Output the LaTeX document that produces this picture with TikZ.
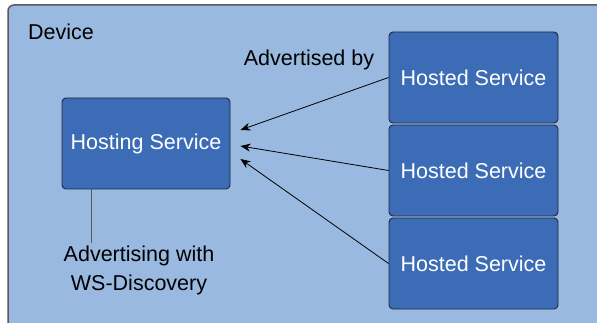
\documentclass[tikz,border=0pt]{standalone}
\usepackage{fontspec}
\setmainfont{Liberation Sans}
\usetikzlibrary{arrows.meta,calc}
\definecolor{devfill}{RGB}{153,185,224}
\definecolor{boxfill}{RGB}{61,108,183}
\definecolor{devline}{RGB}{90,90,90}
\definecolor{boxline}{RGB}{30,40,60}
\tikzset{
  svc/.style={draw=boxline, line width=0.9pt, fill=boxfill, rounded corners=4pt, text=white, font=\fontsize{21.5}{25}\selectfont, inner sep=0pt},
  lbl/.style={font=\fontsize{21.5}{29}\selectfont, text=black, inner sep=0pt},
  arr/.style={-{Stealth[length=10pt,width=8pt]}, line width=0.8pt, black}
}
\begin{document}
\begin{tikzpicture}[x=1pt,y=-1pt]
\useasboundingbox (0,0) rectangle (597,323);
\begin{scope}
\clip (0,0) rectangle (597,323);
\fill[white] (0,0) rectangle (597,323);
\draw[draw=devline, line width=1.5pt, fill=devfill, rounded corners=6pt] (8,5) rectangle (640,360);
\end{scope}
\node[lbl, anchor=base west] (dev) at (28,40) {Device};
\node[svc, minimum width=168pt, minimum height=91pt] (hs) at (146,143.5) {Hosting Service};
\node[svc, minimum width=169pt, minimum height=91pt] (h1) at (473.5,77.5) {Hosted Service};
\node[svc, minimum width=169pt, minimum height=91pt] (h2) at (473.5,170.5) {Hosted Service};
\node[svc, minimum width=169pt, minimum height=91pt] (h3) at (473.5,263.5) {Hosted Service};
\node[lbl] (adv) at (309,60) {Advertised by};
\node[lbl, align=center] (ws) at (139,270) {Advertising with\\WS-Discovery};
\coordinate (t1) at ($(hs.east)+(10,-13.5)$);
\coordinate (t2) at ($(hs.east)+(10,2.5)$);
\coordinate (t3) at ($(hs.east)+(10,15.5)$);
\draw[arr] (h1.west) -- (t1);
\draw[arr] (h2.west) -- (t2);
\draw[arr] (h3.west) -- (t3);
\coordinate (wtop) at (91,243);
\draw[devline, line width=1pt] (hs.south -| wtop) -- (wtop);
\end{tikzpicture}
\end{document}
